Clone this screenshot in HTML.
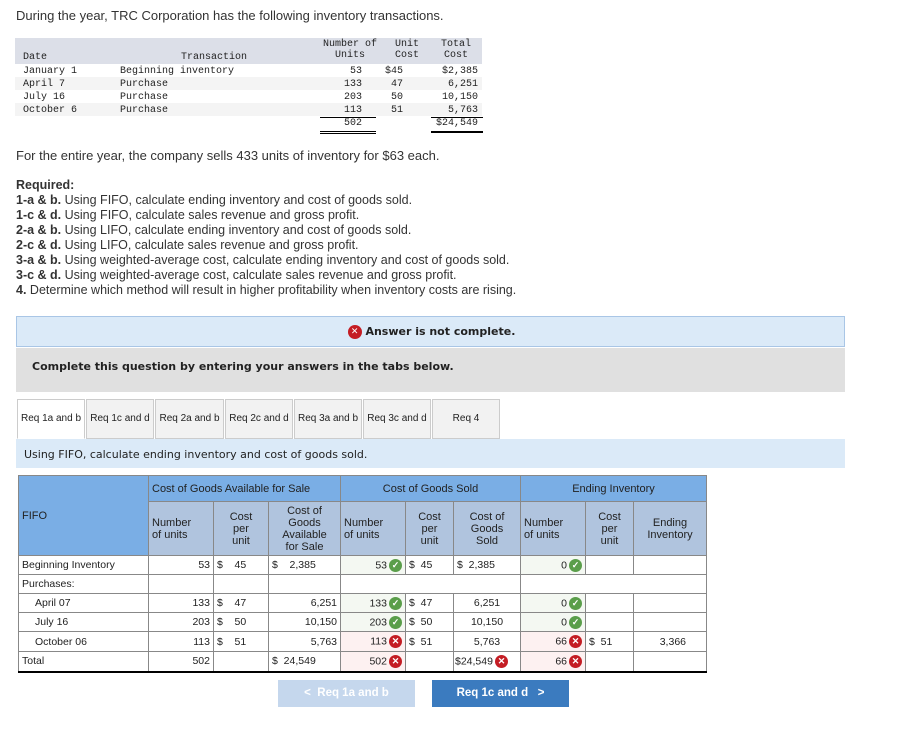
<!DOCTYPE html>
<html><head><meta charset="utf-8"><style>
*{box-sizing:border-box;margin:0;padding:0}
body{width:902px;height:732px;background:#fff;font-family:"Liberation Sans",Arial,sans-serif;color:#222;position:relative;overflow:hidden}
.a{position:absolute}
.t{font-size:13px;color:#333}
.mono{font-family:"Liberation Mono",monospace;font-size:10px;color:#222}
.req{font-size:12.5px;line-height:15px;color:#333}
.tab{position:absolute;top:399px;height:40px;border:1px solid #ccc;background:#f2f2f2;font-family:"Liberation Sans",sans-serif;font-size:10px;text-align:center;line-height:38px;color:#222;white-space:nowrap;overflow:hidden}
table.m{position:absolute;left:18px;top:475px;border-collapse:collapse;table-layout:fixed;font-size:10.5px;color:#222}
table.m td{border:1px solid #888;padding:0 3px;height:19px;overflow:hidden;white-space:nowrap}
.h1{background:#7aaee5;font-size:11px}
.h2{background:#b0c4de;text-align:center;line-height:12px;font-size:11px}
.r{text-align:right}
.ok{background:#f4f8f2}
.bad{background:#fdf1f1}
.ic{display:inline-block;width:13px;height:13px;border-radius:50%;color:#fff;font-size:9px;line-height:13px;text-align:center;vertical-align:middle;font-weight:bold;margin-left:2px}
.g{background:#5a9e4a}.x{background:#c41d24}
.btn{position:absolute;top:680px;height:27px;width:137px;color:#fff;font-weight:bold;font-size:11.5px;text-align:center;line-height:27px}
</style></head><body>
<div class="a t" style="left:16px;top:8px">During the year, TRC Corporation has the following inventory transactions.</div>

<div class="a" style="left:15px;top:38px;width:467px;height:100px">
 <div class="a" style="left:0;top:0;width:467px;height:26px;background:#dcdfe8"></div>
 <div class="a" style="left:0;top:39px;width:467px;height:13px;background:#f4f4f4"></div>
 <div class="a" style="left:0;top:65px;width:467px;height:13px;background:#f4f4f4"></div>
 <div class="a mono" style="left:8px;top:14px">Date</div>
 <div class="a mono" style="left:166px;top:14px">Transaction</div>
 <div class="a mono" style="left:305px;top:1px;width:60px;text-align:center">Number of<br>Units</div>
 <div class="a mono" style="left:376px;top:1px;width:32px;text-align:center">Unit<br>Cost</div>
 <div class="a mono" style="left:420px;top:1px;width:42px;text-align:center">Total<br>Cost</div>
 <div class="a mono" style="left:8px;top:27px;line-height:13px">January 1<br>April 7<br>July 16<br>October 6</div>
 <div class="a mono" style="left:105px;top:27px;line-height:13px">Beginning inventory<br>Purchase<br>Purchase<br>Purchase</div>
 <div class="a mono" style="left:305px;top:27px;width:42px;text-align:right;line-height:13px">53<br>133<br>203<br>113</div>
 <div class="a mono" style="left:370px;top:27px;width:30px;text-align:left;line-height:13px">$45<br>&nbsp;47<br>&nbsp;50<br>&nbsp;51</div>
 <div class="a mono" style="left:420px;top:27px;width:43px;text-align:right;line-height:13px">$2,385<br>6,251<br>10,150<br>5,763</div>
 <div class="a" style="left:305px;top:79px;width:56px;border-top:1px solid #000"></div>
 <div class="a mono" style="left:305px;top:80px;width:42px;text-align:right">502</div>
 <div class="a" style="left:305px;top:93px;width:56px;border-top:3px double #000;height:3px"></div>
 <div class="a" style="left:416px;top:79px;width:52px;border-top:1px solid #000"></div>
 <div class="a mono" style="left:420px;top:80px;width:43px;text-align:right">$24,549</div>
 <div class="a" style="left:416px;top:93px;width:52px;border-top:2px solid #000"></div>
</div>

<div class="a t" style="left:16px;top:148px">For the entire year, the company sells 433 units of inventory for $63 each.</div>
<div class="a req" style="left:16px;top:178px">
<b>Required:</b><br>
<b>1-a &amp; b.</b> Using FIFO, calculate ending inventory and cost of goods sold.<br>
<b>1-c &amp; d.</b> Using FIFO, calculate sales revenue and gross profit.<br>
<b>2-a &amp; b.</b> Using LIFO, calculate ending inventory and cost of goods sold.<br>
<b>2-c &amp; d.</b> Using LIFO, calculate sales revenue and gross profit.<br>
<b>3-a &amp; b.</b> Using weighted-average cost, calculate ending inventory and cost of goods sold.<br>
<b>3-c &amp; d.</b> Using weighted-average cost, calculate sales revenue and gross profit.<br>
<b>4.</b> Determine which method will result in higher profitability when inventory costs are rising.
</div>

<div class="a" style="left:16px;top:316px;width:829px;height:31px;background:#dbeaf8;border:1px solid #a9c6e6;text-align:center;line-height:29px;font-family:'DejaVu Sans',sans-serif;font-size:11px;font-weight:bold"><span class="ic x" style="width:14px;height:14px;line-height:14px">✕</span> Answer is not complete.</div>
<div class="a" style="left:16px;top:348px;width:829px;height:44px;background:#e0e0e0;font-family:'DejaVu Sans',sans-serif;font-size:11px;font-weight:bold;padding:12px 0 0 16px">Complete this question by entering your answers in the tabs below.</div>

<div class="tab" style="left:17px;width:68px;background:#fff;border-bottom-color:#fff">Req 1a and b</div>
<div class="tab" style="left:86px;width:68px">Req 1c and d</div>
<div class="tab" style="left:155px;width:69px">Req 2a and b</div>
<div class="tab" style="left:225px;width:68px">Req 2c and d</div>
<div class="tab" style="left:294px;width:68px">Req 3a and b</div>
<div class="tab" style="left:363px;width:68px">Req 3c and d</div>
<div class="tab" style="left:432px;width:68px">Req 4</div>
<div class="a" style="left:16px;top:439px;width:829px;height:29px;background:#dbeaf8;font-family:'DejaVu Sans',sans-serif;font-size:11px;padding:9px 0 0 8px">Using FIFO, calculate ending inventory and cost of goods sold.</div>

<table class="m">
<colgroup><col style="width:130px"><col style="width:65px"><col style="width:55px"><col style="width:72px"><col style="width:65px"><col style="width:48px"><col style="width:67px"><col style="width:65px"><col style="width:48px"><col style="width:73px"></colgroup>
<tr style="height:26px"><td class="h1" rowspan="2" style="vertical-align:top;padding-top:34px">FIFO</td><td class="h1" colspan="3">Cost of Goods Available for Sale</td><td class="h1" colspan="3" style="text-align:center">Cost of Goods Sold</td><td class="h1" colspan="3" style="text-align:center">Ending Inventory</td></tr>
<tr style="height:54px"><td class="h2" style="text-align:left">Number<br>of units</td><td class="h2">Cost<br>per<br>unit</td><td class="h2">Cost of<br>Goods<br>Available<br>for Sale</td><td class="h2" style="text-align:left">Number<br>of units</td><td class="h2">Cost<br>per<br>unit</td><td class="h2">Cost of<br>Goods<br>Sold</td><td class="h2" style="text-align:left">Number<br>of units</td><td class="h2">Cost<br>per<br>unit</td><td class="h2">Ending<br>Inventory</td></tr>
<tr><td>Beginning Inventory</td><td class="r">53</td><td>$&nbsp;&nbsp;&nbsp;&nbsp;45</td><td>$&nbsp;&nbsp;&nbsp;&nbsp;2,385</td><td class="r ok">53<span class="ic g">✓</span></td><td>$&nbsp;&nbsp;45</td><td>$&nbsp;&nbsp;2,385</td><td class="r ok">0<span class="ic g">✓</span></td><td></td><td></td></tr>
<tr><td>Purchases:</td><td></td><td></td><td></td><td colspan="3"></td><td colspan="3"></td></tr>
<tr><td style="padding-left:16px">April 07</td><td class="r">133</td><td>$&nbsp;&nbsp;&nbsp;&nbsp;47</td><td class="r">6,251</td><td class="r ok">133<span class="ic g">✓</span></td><td>$&nbsp;&nbsp;47</td><td style="text-align:center">6,251</td><td class="r ok">0<span class="ic g">✓</span></td><td></td><td></td></tr>
<tr><td style="padding-left:16px">July 16</td><td class="r">203</td><td>$&nbsp;&nbsp;&nbsp;&nbsp;50</td><td class="r">10,150</td><td class="r ok">203<span class="ic g">✓</span></td><td>$&nbsp;&nbsp;50</td><td style="text-align:center">10,150</td><td class="r ok">0<span class="ic g">✓</span></td><td></td><td></td></tr>
<tr style="height:20px"><td style="padding-left:16px">October 06</td><td class="r">113</td><td>$&nbsp;&nbsp;&nbsp;&nbsp;51</td><td class="r">5,763</td><td class="r bad">113<span class="ic x">✕</span></td><td>$&nbsp;&nbsp;51</td><td style="text-align:center">5,763</td><td class="r bad">66<span class="ic x">✕</span></td><td>$&nbsp;&nbsp;51</td><td class="r" style="padding-right:20px">3,366</td></tr>
<tr style="height:20px"><td style="border-bottom:2px solid #000">Total</td><td class="r" style="border-bottom:2px solid #000">502</td><td style="border-bottom:2px solid #000"></td><td style="border-bottom:2px solid #000">$&nbsp;&nbsp;24,549</td><td class="r bad" style="border-bottom:2px solid #000">502<span class="ic x">✕</span></td><td style="border-bottom:2px solid #000"></td><td style="border-bottom:2px solid #000;padding:0 1px">$24,549<span class="ic x">✕</span></td><td class="r bad" style="border-bottom:2px solid #000">66<span class="ic x">✕</span></td><td style="border-bottom:2px solid #000"></td><td style="border-bottom:2px solid #000"></td></tr>
</table>

<div class="btn" style="left:278px;background:#c5d7ed">&lt;&nbsp;&nbsp;Req 1a and b</div>
<div class="btn" style="left:432px;background:#3b7bbf">Req 1c and d&nbsp;&nbsp;&nbsp;&gt;</div>
</body></html>
